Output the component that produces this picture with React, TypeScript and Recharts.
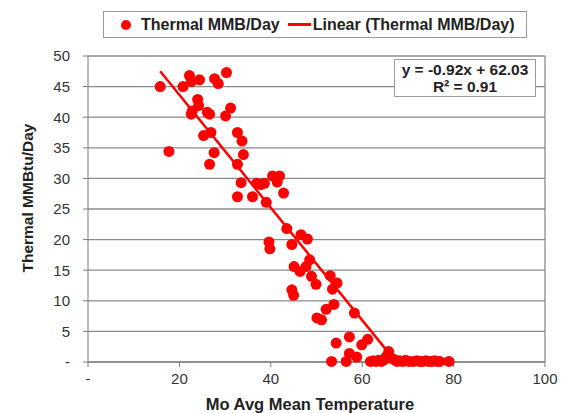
import React from "react";
import {
  ScatterChart,
  Scatter,
  XAxis,
  YAxis,
  CartesianGrid,
  ReferenceLine,
} from "recharts";

// monthly average mean temperature (x) vs thermal MMBtu/day (y)
const tempX = [
  15.8, 17.7, 20.8, 22.2, 22.6, 24.4, 22.8, 22.6, 24.0, 24.2, 26.1, 26.6, 25.3,
  26.9, 26.6, 27.6, 27.7, 28.5, 30.3, 30.1, 31.2, 32.7, 33.7, 34.0, 32.7, 32.7,
  33.5, 36.0, 36.9, 37.8, 38.6, 39.0, 40.4, 41.9, 41.4, 42.8, 39.6, 39.8, 43.5,
  44.6, 46.6, 48.0, 45.1, 46.4, 47.7, 48.5, 48.9, 49.9, 44.6, 45.0, 53.0, 54.5,
  53.5, 53.8, 52.1, 50.1, 51.1, 58.3, 57.2, 61.2, 59.9, 54.3, 53.3, 56.5, 57.2,
  58.8, 65.8, 61.8, 62.4, 63.0, 63.6, 64.2, 64.8, 65.3, 66.4, 67.0, 67.6, 68.2,
  68.9, 69.5, 70.3, 71.2, 72.0, 72.6, 73.2, 73.9, 74.5, 75.2, 75.8, 76.4, 77.0,
  79.0,
];
const thermalY = [
  45.0, 34.4, 45.0, 46.8, 45.8, 46.1, 41.0, 40.5, 42.9, 41.9, 40.8, 40.5, 37.0,
  37.5, 32.3, 34.2, 46.3, 45.5, 47.3, 40.2, 41.5, 37.5, 36.1, 33.9, 32.3, 27.0,
  29.3, 27.0, 29.2, 29.0, 29.2, 26.1, 30.4, 30.4, 29.4, 27.6, 19.6, 18.5, 21.8,
  19.2, 20.8, 20.1, 15.6, 14.8, 15.6, 16.7, 14.0, 12.7, 11.8, 10.9, 14.1, 12.9,
  11.9, 9.4, 8.6, 7.2, 6.9, 8.0, 4.1, 3.7, 2.8, 3.1, 0.1, 0.1, 1.4, 0.8, 1.7,
  0.1, 0.2, 0.1, 0.3, 0.1, 0.4, 0.9, 0.6, 0.4, 0.1, 0.2, 0.1, 0.3, 0.1, 0.1, 0.2,
  0.1, 0.1, 0.2, 0.1, 0.1, 0.2, 0.1, 0.1, 0.1,
];

// linear trendline from Excel
const slope = -0.92;
const intercept = 62.03;
const trendX = [15.8, 67.4];

const xTicks = [0, 20, 40, 60, 80, 100];
const yTicks = [0, 5, 10, 15, 20, 25, 30, 35, 40, 45, 50];

const points = tempX.map((x, i) => ({ x, y: thermalY[i] }));
const trend = trendX.map((x) => ({ x, y: Math.max(0, slope * x + intercept) }));

const FONT = "'Liberation Sans', Arial, sans-serif";
const RED = "#ff0000";

const fmt = (v: number) => (v === 0 ? "-" : String(v));

function LegendBox() {
  return (
    <div
      style={{
        position: "absolute",
        left: 103,
        top: 11,
        width: 424,
        height: 27,
        boxSizing: "border-box",
        border: "1px solid #9a9a9a",
        background: "#fff",
        display: "flex",
        alignItems: "center",
        fontFamily: FONT,
        fontWeight: "bold",
        fontSize: 16,
        color: "#222",
        whiteSpace: "nowrap",
      }}
    >
      <span
        style={{
          display: "inline-block",
          width: 10,
          height: 10,
          borderRadius: 5,
          background: RED,
          marginLeft: 17,
          marginRight: 10,
        }}
      />
      <span>Thermal MMB/Day</span>
      <span
        style={{
          display: "inline-block",
          width: 23,
          height: 2.5,
          background: RED,
          marginLeft: 8,
          marginRight: 2,
        }}
      />
      <span>Linear (Thermal MMB/Day)</span>
    </div>
  );
}

export default function App() {
  return (
    <div
      style={{
        position: "absolute",
        left: 0,
        top: 0,
        width: 569,
        height: 413,
        background: "#fff",
        overflow: "hidden",
      }}
    >
      <ScatterChart
        width={569}
        height={413}
        margin={{ top: 56, right: 24, bottom: 21, left: 0 }}
        style={{ fontFamily: FONT }}
      >
        <CartesianGrid
          horizontal
          vertical={false}
          stroke="#8a8a8a"
          strokeWidth={1.3}
        />
        <XAxis
          type="number"
          dataKey="x"
          domain={[0, 100]}
          ticks={xTicks}
          tickFormatter={fmt}
          height={30}
          stroke="#7a7a7a"
          tickSize={5}
          tickMargin={6}
          tick={{ fill: "#333", fontSize: 15 }}
        />
        <YAxis
          type="number"
          dataKey="y"
          domain={[0, 50]}
          ticks={yTicks}
          tickFormatter={fmt}
          width={88}
          stroke="#7a7a7a"
          tickSize={5}
          tickMargin={13}
          tick={{ fill: "#333", fontSize: 15 }}
        />
        <ReferenceLine x={100} stroke="#8a8a8a" strokeWidth={1.3} />
        <Scatter
          data={points}
          fill={RED}
          isAnimationActive={false}
          shape={(p: any) => <circle cx={p.cx} cy={p.cy} r={5.5} fill={RED} />}
        />
        <Scatter
          data={trend}
          line={{ stroke: RED, strokeWidth: 2.5 }}
          shape={() => null}
          isAnimationActive={false}
        />
        <text
          x={310}
          y={410}
          textAnchor="middle"
          fontFamily={FONT}
          fontWeight="bold"
          fontSize={16.5}
          fill="#222"
        >
          Mo Avg Mean Temperature
        </text>
        <text
          x={0}
          y={0}
          transform="translate(33 198) rotate(-90)"
          textAnchor="middle"
          fontFamily={FONT}
          fontWeight="bold"
          fontSize={15.5}
          fill="#222"
        >
          Thermal MMBtu/Day
        </text>
      </ScatterChart>
      <LegendBox />
      <div
        style={{
          position: "absolute",
          left: 394,
          top: 59,
          width: 142,
          height: 38,
          boxSizing: "border-box",
          border: "1px solid #9a9a9a",
          background: "#fff",
          fontFamily: FONT,
          fontWeight: "bold",
          fontSize: 15.5,
          color: "#222",
          textAlign: "center",
          lineHeight: "17px",
          paddingTop: 1,
        }}
      >
        <div>y = -0.92x + 62.03</div>
        <div>R² = 0.91</div>
      </div>
    </div>
  );
}
